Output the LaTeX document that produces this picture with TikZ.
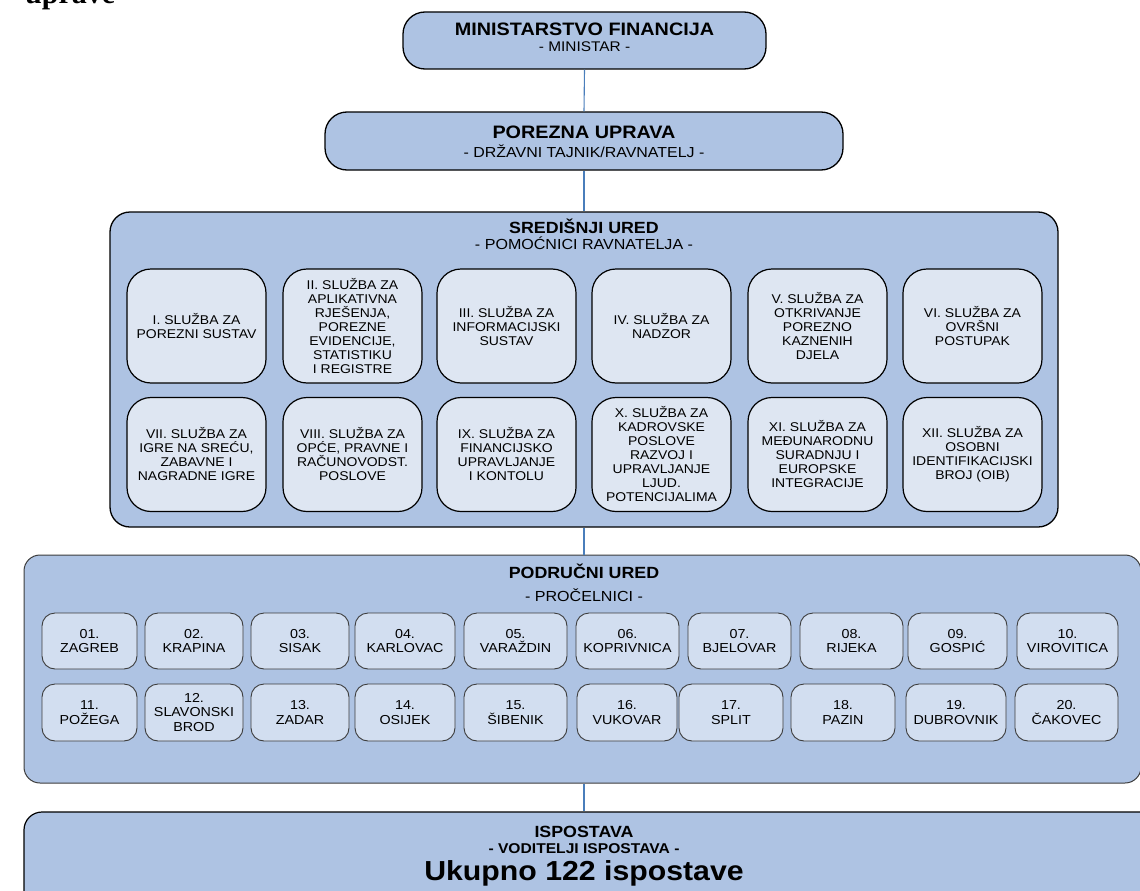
\documentclass[tikz,border=0pt]{standalone}
\usepackage{fontspec}
\setmainfont{Liberation Sans}[FakeStretch=1.1]
\newfontfamily\uprfont{Liberation Serif}
\definecolor{boxblue}{RGB}{174,195,227}
\definecolor{innerblue}{RGB}{222,230,242}
\definecolor{cityblue}{RGB}{210,222,240}
\definecolor{linkblue}{RGB}{74,126,187}
\definecolor{edgegray}{RGB}{60,60,60}
\begin{document}
\begin{tikzpicture}[x=1pt,y=-1pt,
  big/.style={draw=black, line width=1.3pt, fill=boxblue, rounded corners=#1, inner sep=0pt},
  svc/.style={draw=black, line width=1.2pt, fill=innerblue, rounded corners=24pt,
    minimum width=139pt, minimum height=114pt, inner sep=0pt, align=center,
    font=\fontsize{12.7}{14}\selectfont},
  city/.style={draw=edgegray, line width=0.9pt, fill=cityblue, rounded corners=13pt,
    minimum height=56pt, inner sep=0pt, align=center,
    font=\fontsize{13}{14.5}\selectfont},
  ttl/.style={anchor=base, inner sep=0pt, font=\fontsize{#1}{#1}\selectfont\bfseries},
  sub/.style={anchor=base, inner sep=0pt, font=\fontsize{#1}{#1}\selectfont},
  link/.style={draw=linkblue, line width=1.1pt}]
\useasboundingbox (0,0) rectangle (1140,891);

% cut-off heading text at the top
\node[anchor=base west, inner sep=0pt, font=\uprfont\fontsize{30}{30}\selectfont\bfseries] (upr) at (25,4) {uprave};

% top boxes
\node[big=22pt, minimum width=363pt, minimum height=57pt] (min) at (584.5,40.5) {};
\node[ttl=18] (minT) at (584.5,36) {MINISTARSTVO FINANCIJA};
\node[sub=14] (minS) at (584.5,52) {- MINISTAR -};

\node[big=22pt, minimum width=518pt, minimum height=58pt] (por) at (584,141) {};
\node[ttl=18] (porT) at (584,138) {POREZNA UPRAVA};
\node[sub=14.5] (porS) at (584,157) {- DRŽAVNI TAJNIK/RAVNATELJ -};

% Sredisnji ured
\node[big=20pt, minimum width=948pt, minimum height=315pt] (sred) at (584,369.5) {};
\node[ttl=16.2] (sredT) at (584,233) {SREDIŠNJI URED};
\node[sub=14.6] (sredS) at (584,249) {- POMOĆNICI RAVNATELJA -};

\node[svc] (s1) at (196.5,326) {I. SLUŽBA ZA\\POREZNI SUSTAV};
\node[svc] (s2) at (352.5,326) {II. SLUŽBA ZA\\APLIKATIVNA\\RJEŠENJA,\\POREZNE\\EVIDENCIJE,\\STATISTIKU\\I REGISTRE};
\node[svc] (s3) at (506.5,326) {III. SLUŽBA ZA\\INFORMACIJSKI\\SUSTAV};
\node[svc] (s4) at (661.5,326) {IV. SLUŽBA ZA\\NADZOR};
\node[svc] (s5) at (817.5,326) {V. SLUŽBA ZA\\OTKRIVANJE\\POREZNO\\KAZNENIH\\DJELA};
\node[svc] (s6) at (972.5,326) {VI. SLUŽBA ZA\\OVRŠNI\\POSTUPAK};
\node[svc] (s7) at (196.5,454.5) {VII. SLUŽBA ZA\\IGRE NA SREĆU,\\ZABAVNE I\\NAGRADNE IGRE};
\node[svc] (s8) at (352.5,454.5) {VIII. SLUŽBA ZA\\OPĆE, PRAVNE I\\RAČUNOVODST.\\POSLOVE};
\node[svc] (s9) at (506.5,454.5) {IX. SLUŽBA ZA\\FINANCIJSKO\\UPRAVLJANJE\\I KONTOLU};
\node[svc] (s10) at (661.5,454.5) {X. SLUŽBA ZA\\KADROVSKE\\POSLOVE\\RAZVOJ I\\UPRAVLJANJE\\LJUD.\\POTENCIJALIMA};
\node[svc] (s11) at (817.5,454.5) {XI. SLUŽBA ZA\\MEĐUNARODNU\\SURADNJU I\\EUROPSKE\\INTEGRACIJE};
\node[svc] (s12) at (972.5,454.5) {XII. SLUŽBA ZA\\OSOBNI\\IDENTIFIKACIJSKI\\BROJ (OIB)};

% Podrucni ured
\node[draw=edgegray, line width=1pt, fill=boxblue, rounded corners=16pt, inner sep=0pt,
  minimum width=1117pt, minimum height=228pt] (pod) at (582.5,669) {};
\node[ttl=16.2] (podT) at (584,578) {PODRUČNI URED};
\node[sub=14.6] (podS) at (584,601) {- PROČELNICI -};

\foreach \a/\b/\n/\t in {42/137/c1/{01.\\ZAGREB}, 145/243/c2/{02.\\KRAPINA}, 251/349/c3/{03.\\SISAK},
  355/455/c4/{04.\\KARLOVAC}, 464/567/c5/{05.\\VARAŽDIN}, 576/679/c6/{06.\\KOPRIVNICA},
  688/791/c7/{07.\\BJELOVAR}, 800/903/c8/{08.\\RIJEKA}, 908/1007/c9/{09.\\GOSPIĆ},
  1017/1118/c10/{10.\\VIROVITICA}}
  \node[city, minimum width={(\b-\a)*1pt}] (\n) at ({(\a+\b)/2},641) {\t};

\foreach \a/\b/\n/\t in {42/137/c11/{11.\\POŽEGA}, 145/243/c12/{12.\\SLAVONSKI\\BROD}, 251/349/c13/{13.\\ZADAR},
  355/455/c14/{14.\\OSIJEK}, 464/567/c15/{15.\\ŠIBENIK}, 577/677/c16/{16.\\VUKOVAR},
  679/783/c17/{17.\\SPLIT}, 791/895/c18/{18.\\PAZIN}, 906/1006/c19/{19.\\DUBROVNIK},
  1015/1118/c20/{20.\\ČAKOVEC}}
  \node[city, minimum width={(\b-\a)*1pt}, minimum height=57pt] (\n) at ({(\a+\b)/2},712.5) {\t};

% Ispostava
\node[big=18pt, line width=1.2pt, minimum width=1150pt, minimum height=110pt] (isp) at (599,867) {};
\node[ttl=16.2] (ispT) at (584,837) {ISPOSTAVA};
\node[ttl=14.2] (ispS) at (584,853) {- VODITELJI ISPOSTAVA -};
\node[ttl=27.5] (ispU) at (584,880) {Ukupno 122 ispostave};

% connectors
\draw[link] (min.south) -- (por.north);
\draw[link] (por.south) -- (sred.north);
\draw[link] (sred.south) -- (sred.south |- pod.north);
\draw[link] (sred.south |- pod.south) -- (sred.south |- isp.north);
\end{tikzpicture}
\end{document}
